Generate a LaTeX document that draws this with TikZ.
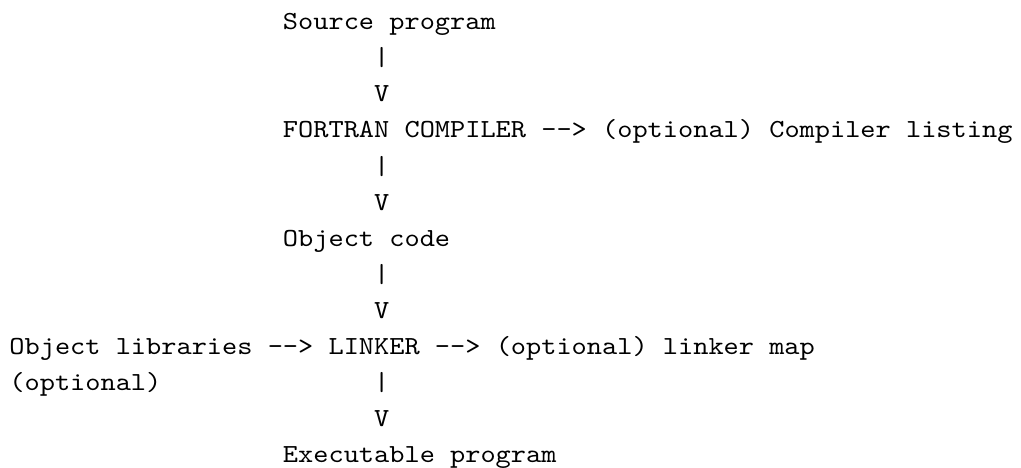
\documentclass[tikz,border=0pt]{standalone}
\usepackage{fontspec}
\setmonofont{lmmono10-regular.otf}[FakeStretch=1.111]
\usepackage{tikz}

\tikzset{
  txt/.style={anchor=base west, inner sep=0pt, outer sep=0pt,
    font=\fontsize{9}{11}\selectfont\ttfamily}
}

\begin{document}
\begin{tikzpicture}[x=5.25pt, y=-12.47pt]
                \useasboundingbox (-0.62,-0.82) rectangle (66.56,12.14);
                % main column
                \node[txt] (src) at (18,0) {Source program};
                \node[txt] (comp) at (18,3) {FORTRAN COMPILER};
                \node[txt] (arrcomp) at (35,3) {-{}->};
                \node[txt] (lst) at (39,3) {(optional) Compiler listing};
                \node[txt] (obj) at (18,6) {Object code};
                \node[txt] (libs) at (0,9) {Object libraries};
                \node[txt] (arrlibs) at (17,9) {-{}->};
                \node[txt] (link) at (21,9) {LINKER};
                \node[txt] (arrmap) at (28,9) {-{}->};
                \node[txt] (map) at (32,9) {(optional) linker map};
                \node[txt] (opt) at (0,10) {(optional)};
                \node[txt] (exe) at (18,12) {Executable program};
                % bars and heads between the steps
                \foreach \r in {1,4,7,10} {
                        \node[txt] (bar\r) at (24,\r) {|};
                    }
                \foreach \r in {2,5,8,11} {
                        \node[txt] (head\r) at (24,\r) {V};
                    }
            \end{tikzpicture}
\end{document}
